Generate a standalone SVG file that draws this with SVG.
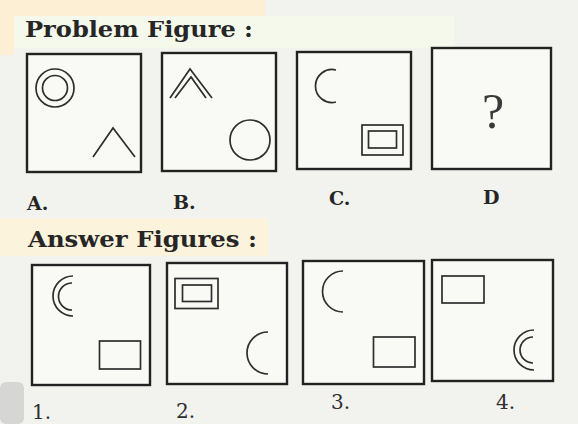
<svg xmlns="http://www.w3.org/2000/svg" width="578" height="424" viewBox="0 0 578 424">
<style>
.frame{fill:#f9f9f6;stroke:#222;stroke-width:2.4}
.sh{fill:none;stroke:#2e2e2e;stroke-width:1.7}
.head{font-family:"DejaVu Serif",serif;font-weight:bold;font-size:23px;fill:#262626}
.lab{font-family:"DejaVu Serif",serif;font-weight:bold;font-size:19px;fill:#262626}
.num{font-family:"DejaVu Serif",serif;font-size:20px;fill:#2e2e2e}
.q{font-family:"Liberation Serif",serif;font-size:50px;fill:#3a3a3a}
</style>
<rect width="578" height="424" fill="#f2f2ee"/>
<rect x="0" y="0" width="265" height="16" fill="#fcefd4"/>
<rect x="0" y="0" width="14" height="55" fill="#fcefd4"/>
<rect x="14" y="16" width="440" height="32" fill="#f4f9ec"/>
<rect x="0" y="218" width="268" height="38" fill="#fcf3dc"/>
<rect x="0" y="382" width="24" height="42" rx="6" fill="#d6d6d4"/>
<text class="head" x="25" y="37" textLength="228" lengthAdjust="spacingAndGlyphs">Problem Figure :</text>
<text class="head" x="28" y="247" textLength="229" lengthAdjust="spacingAndGlyphs">Answer Figures :</text>
<g id="figA">
<rect class="frame" x="27" y="54" width="114" height="118"/>
<circle class="sh" cx="55" cy="88" r="19"/>
<circle class="sh" cx="55" cy="88" r="12.5"/>
<polyline class="sh" points="93,157 113,128 135,157"/>
<text class="lab" x="27" y="210">A.</text>
</g>
<g id="figB">
<rect class="frame" x="162" y="53" width="114" height="118"/>
<polyline class="sh" points="170,98 190,69 212,98"/>
<polyline class="sh" points="175,98 191,77 206,98"/>
<circle class="sh" cx="250" cy="140" r="20"/>
<text class="lab" x="173" y="209">B.</text>
</g>
<g id="figC">
<rect class="frame" x="297" y="52" width="114" height="117"/>
<path class="sh" d="M336,70 A16.5,16.5 0 1 0 336,102"/>
<rect class="sh" x="362" y="125" width="41" height="30"/>
<rect class="sh" x="368.5" y="131" width="28" height="17"/>
<text class="lab" x="329" y="205">C.</text>
</g>
<g id="figD">
<rect class="frame" x="432" y="48" width="119" height="121"/>
<text class="q" x="493" y="128" text-anchor="middle">?</text>
<text class="lab" x="483" y="204">D</text>
</g>
<g id="ans1">
<rect class="frame" x="32" y="265" width="118" height="120"/>
<path class="sh" d="M73,276 A20,20 0 0 0 73,316"/>
<path class="sh" d="M72,283 A13.5,13.5 0 0 0 72,310"/>
<rect class="sh" x="99.5" y="341" width="41" height="28"/>
<text class="num" x="32" y="419">1.</text>
</g>
<g id="ans2">
<rect class="frame" x="167" y="263" width="120" height="121"/>
<rect class="sh" x="175" y="278.5" width="43" height="30"/>
<rect class="sh" x="182.5" y="285" width="29" height="16.5"/>
<path class="sh" d="M268,332 A21,21 0 0 0 268,374"/>
<text class="num" x="176" y="418">2.</text>
</g>
<g id="ans3">
<rect class="frame" x="303" y="261" width="121" height="123"/>
<path class="sh" d="M343,271 A20.5,20.5 0 0 0 343,312"/>
<rect class="sh" x="373.5" y="337" width="41.5" height="30"/>
<text class="num" x="331" y="409">3.</text>
</g>
<g id="ans4">
<rect class="frame" x="432" y="260" width="121" height="121"/>
<rect class="sh" x="442" y="276" width="42" height="27"/>
<path class="sh" d="M534,330 A20,20 0 0 0 534,370"/>
<path class="sh" d="M533,337 A13,13 0 0 0 533,363"/>
<text class="num" x="496" y="409">4.</text>
</g>
</svg>
